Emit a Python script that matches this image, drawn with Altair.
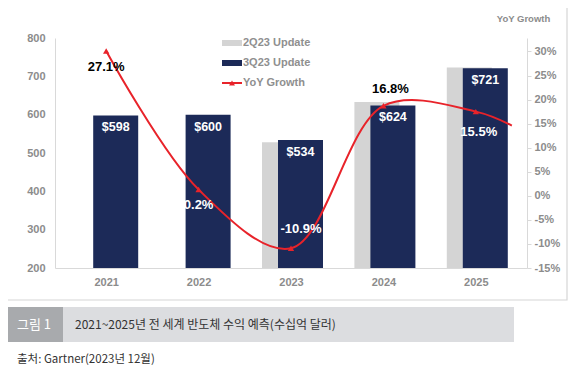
import altair as alt
import pandas as pd

# ---- data ----
years = [2021, 2022, 2023, 2024, 2025]
rev_3q23 = [598, 600, 534, 624, 721]
years_2q23 = [2023, 2024, 2025]
rev_2q23 = [528, 633, 723]
growth_labels = ["27.1%", "0.2%", "-10.9%", "16.8%", "15.5%"]
growth_drawn = [30.1, 1.3, -10.9, 18.7, 17.5]   # where the markers sit on the right axis
tail_year = [2025.39]                            # the curve runs on past the last marker
tail_value = [14.6]
legend_names = ["2Q23 Update", "3Q23 Update", "YoY Growth"]
left_ticks = [200, 300, 400, 500, 600, 700, 800]
right_ticks = [-15, -10, -5, 0, 5, 10, 15, 20, 25, 30]
caption_num = "그림 1"
caption_title = "2021~2025년 전 세계 반도체 수익 예측(수십억 달러)"
source_text = "출처: Gartner(2023년 12월)"
right_title = "YoY Growth"

NAVY = "#1c2a58"
GREY = "#d4d4d4"
RED = "#e8232a"
AXIS_GREY = "#8c8c8c"
LINE_GREY = "#d9d9d9"
FONT = "Liberation Sans"
KFONT = "Noto Sans CJK KR"

bars3 = pd.DataFrame({"year": years, "rev": rev_3q23, "lab": [f"${v}" for v in rev_3q23]})
bars2 = pd.DataFrame({"year": years_2q23, "rev": rev_2q23})
pts = pd.DataFrame({"year": years, "g": growth_drawn, "lab": growth_labels})
line_df = pd.DataFrame({"year": years + tail_year, "g": growth_drawn + tail_value})
one = pd.DataFrame({"a": [0]})

xscale = alt.Scale(domain=[2020.5, 2025.5], nice=False, zero=False)
xaxis = alt.Axis(values=years, format="d", title=None, ticks=False, grid=False,
                 domainColor=LINE_GREY, labelColor=AXIS_GREY, labelFont=FONT,
                 labelFontWeight="bold", labelFontSize=11, labelPadding=8)
lscale = alt.Scale(domain=[200, 800], nice=False, zero=False)
laxis = alt.Axis(values=left_ticks, title=None, ticks=False, grid=False,
                 domainColor=LINE_GREY, labelColor=AXIS_GREY, labelFont=FONT,
                 labelFontWeight="bold", labelFontSize=11, labelPadding=10)
rscale = alt.Scale(domain=[-15, 32.8], nice=False, zero=False)
raxis = alt.Axis(values=right_ticks, title=None, orient="right", ticks=True, tickSize=4,
                 tickColor=LINE_GREY, grid=False, domainColor=LINE_GREY,
                 labelExpr="datum.value + '%'", labelColor=AXIS_GREY, labelFont=FONT,
                 labelFontWeight="bold", labelFontSize=11, labelPadding=3)

X = alt.X("year:Q", scale=xscale, axis=xaxis)

grey = alt.Chart(bars2).mark_bar(size=45, xOffset=-6.5, color=GREY).encode(
    x=X, y=alt.Y("rev:Q", scale=lscale, axis=laxis), y2=alt.datum(200))
navy = alt.Chart(bars3).mark_bar(size=45, xOffset=9.5, color=NAVY).encode(
    x=X, y=alt.Y("rev:Q", scale=lscale, axis=laxis), y2=alt.datum(200))
barlab = alt.Chart(bars3).mark_text(dx=9.5, dy=12, color="white", font=FONT,
                                    fontWeight="bold", fontSize=12.5).encode(
    x=X, y=alt.Y("rev:Q", scale=lscale, axis=laxis), text="lab:N")
left = alt.layer(grey, navy, barlab)

line = alt.Chart(line_df).mark_line(color=RED, strokeWidth=2, interpolate="catmull-rom").encode(
    x=X, y=alt.Y("g:Q", scale=rscale, axis=raxis))
marks = alt.Chart(pts).mark_point(shape="triangle-up", filled=True, size=40, color=RED, opacity=1).encode(
    x=X, y=alt.Y("g:Q", scale=rscale, axis=raxis))

label_style = {
    "27.1%": (0, 16, "black"),
    "0.2%": (0, 15.5, "white"),
    "-10.9%": (10, -19, "white"),
    "16.8%": (7, -17, "black"),
    "15.5%": (3, 20.5, "white"),
}
gl = []
for lab in growth_labels:
    dx, dy, col = label_style[lab]
    gl.append(
        alt.Chart(pts).transform_filter(alt.datum.lab == lab)
        .mark_text(dx=dx, dy=dy, color=col, font=FONT, fontWeight="bold", fontSize=13)
        .encode(x=X, y=alt.Y("g:Q", scale=rscale, axis=raxis), text="lab:N")
    )
right = alt.layer(line, marks, *gl)

# ---- decoration: frame, legend, titles, caption ----
base = alt.Chart(one)
frame = base.mark_rect(fillOpacity=0, stroke="#d6d6d6", strokeWidth=1.2).encode(
    x=alt.value(-49), x2=alt.value(512), y=alt.value(-33), y2=alt.value(262))
ytitle = base.mark_text(text=right_title, font=FONT, fontWeight="bold", fontSize=9.5,
                        color=AXIS_GREY, align="center", baseline="middle").encode(
    x=alt.value(468.5), y=alt.value(-19))

leg = []
sw = [GREY, NAVY]
for i, name in enumerate(legend_names):
    yy = 5 + 20 * i
    if i < 2:
        leg.append(base.mark_rect(color=sw[i]).encode(
            x=alt.value(167), x2=alt.value(187), y=alt.value(yy - 3), y2=alt.value(yy + 3)))
    else:
        leg.append(base.mark_rule(color=RED, strokeWidth=2).encode(
            x=alt.value(167), x2=alt.value(187), y=alt.value(yy)))
        leg.append(base.mark_point(shape="triangle-up", filled=True, size=35, color=RED, opacity=1).encode(
            x=alt.value(177), y=alt.value(yy)))
    leg.append(base.mark_text(text=name, font=FONT, fontWeight="bold", fontSize=11,
                              color="#8f8f8f", align="left", baseline="middle").encode(
        x=alt.value(188), y=alt.value(yy)))

cap_dark = base.mark_rect(color="#a8aaad").encode(
    x=alt.value(-49), x2=alt.value(8), y=alt.value(269), y2=alt.value(304))
cap_light = base.mark_rect(color="#dcdde0").encode(
    x=alt.value(8), x2=alt.value(459), y=alt.value(269), y2=alt.value(304))
cap_n = base.mark_text(text=caption_num, font=KFONT, fontSize=13, color="white",
                       align="center", baseline="middle").encode(x=alt.value(-21), y=alt.value(287))
cap_t = base.mark_text(text=caption_title, font=KFONT, fontSize=12, color="#333333",
                       align="left", baseline="middle").encode(x=alt.value(20), y=alt.value(287))
src = base.mark_text(text=source_text, font=KFONT, fontSize=11.5, color="#333333",
                     align="left", baseline="middle").encode(x=alt.value(-38), y=alt.value(322))

deco = alt.layer(frame, ytitle, *leg, cap_dark, cap_light, cap_n, cap_t, src)

chart = (
    alt.layer(left, right, deco)
    .resolve_scale(y="independent")
    .properties(width=472, height=230,
                autosize=alt.AutoSizeParams(type="none"),
                padding={"left": 47, "top": 30, "right": 43, "bottom": 115},
                background="white")
    .configure_view(strokeWidth=0)
)

chart.save("out.html", embed_options={"renderer": "svg", "actions": False})
